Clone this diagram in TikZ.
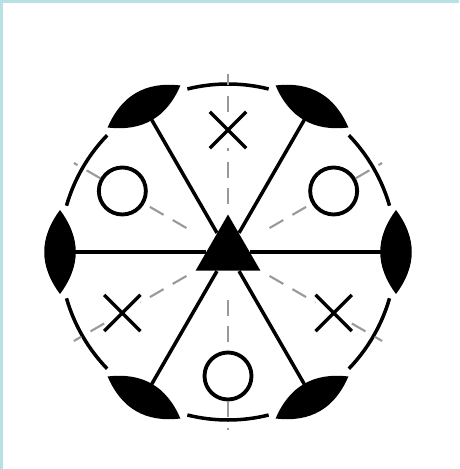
\documentclass[tikz,border=0pt]{standalone}
\usetikzlibrary{shapes.geometric,shapes.misc}
\definecolor{framecyan}{RGB}{182,225,229}
\begin{document}
\begin{tikzpicture}[x=0.02cm,y=0.02cm,
    mark o/.style={circle,draw,line width=2.2pt,minimum size=0.94cm,inner sep=0pt},
    mark x/.style={cross out,draw,line width=1.9pt,minimum size=0.66cm,inner sep=0pt},
    spoke/.style={line width=2pt},
    guide/.style={black!40,line width=1.2pt,dash pattern=on 9pt off 6pt}]
    \useasboundingbox (0,0) rectangle (459,469);
    \fill[framecyan] (0,466) rectangle (459,469);
    \fill[framecyan] (0,0) rectangle (3,469);

    \begin{scope}[shift={(228,217)}]
    % centre and markers
    \node[regular polygon,regular polygon sides=3,fill,inner sep=0pt,minimum size=1.5cm] (tri) at (0,0) {};
    \node[mark x] (x1) at (90:122) {};
    \node[mark o] (o1) at (150:122) {};
    \node[mark o] (o2) at (30:122) {};
    \node[mark x] (x2) at (210:122) {};
    \node[mark x] (x3) at (330:122) {};
    \node[mark o] (o3) at (270:124) {};

    % rim: lenses and arcs
    \foreach \a in {0,60,...,300} {
        \begin{scope}[shift={(\a:168)},rotate=\a]
            \fill (0,-42) .. controls (21,-14) and (21,14) .. (0,42)
                .. controls (-21,14) and (-21,-14) .. (0,-42) -- cycle;
        \end{scope}
        \draw[spoke] (\a+16:168) arc[start angle=\a+16,end angle=\a+44,radius=168];
        \coordinate (s\a) at (\a:155);
        \draw[spoke] (tri) -- (s\a);
    }

    % gray guides
    \foreach \a in {30,90,...,330} {
        \coordinate (in\a) at (\a:48);
        \coordinate (out\a) at (\a:178);
    }
    \draw[guide] (in90) -- (x1) -- (out90);
    \draw[guide] (in150) -- (o1) -- (out150);
    \draw[guide] (in30) -- (o2) -- (out30);
    \draw[guide] (in210) -- (x2) -- (out210);
    \draw[guide] (in330) -- (x3) -- (out330);
    \draw[guide] (in270) -- (o3) -- (out270);
    \end{scope}
\end{tikzpicture}
\end{document}
